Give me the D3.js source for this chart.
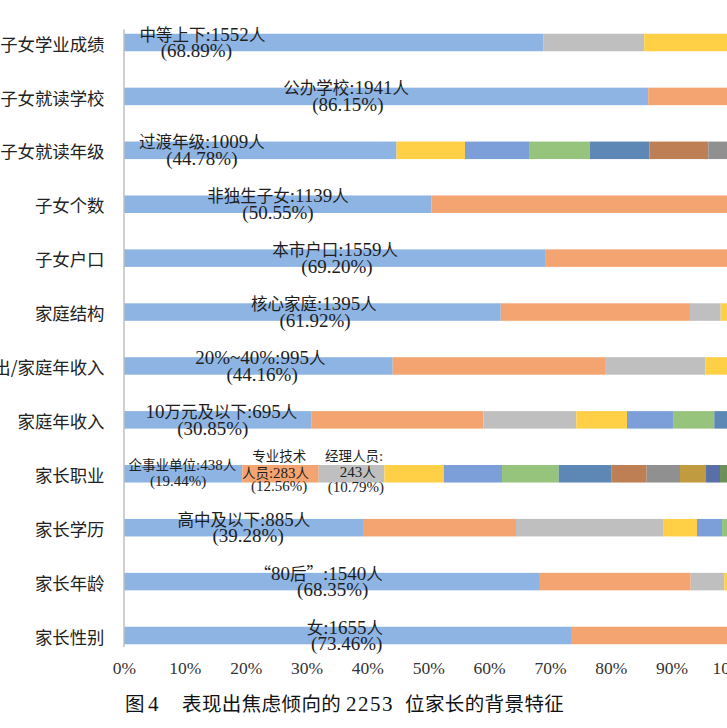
<!DOCTYPE html>
<html><head><meta charset="utf-8">
<script src="https://cdn.jsdelivr.net/npm/d3@7"></script>
<style>html,body{margin:0;padding:0;background:#fff;overflow:hidden}</style>
</head><body><svg id="c" width="727" height="728"></svg>
<script>
// ---------- DATA ----------
const categories = ["子女学业成绩","子女就读学校","子女就读年级","子女个数","子女户口","家庭结构","教育支出/家庭年收入","家庭年收入","家长职业","家长学历","家长年龄","家长性别"];
const seriesKeys = ["s1","s2","s3","s4","s5","s6","s7","s8","s9","s10","s11","s12"];
const s1  = [68.89,86.15,44.78,50.55,69.20,61.92,44.16,30.85,19.44,39.28,68.35,73.46];
const s2  = [0,13.85,0,49.45,30.80,31.10,34.89,28.21,12.56,25.14,24.78,26.54];
const s3  = [16.60,0,0,0,0,5.04,16.48,15.27,10.79,24.27,5.52,0];
const s4  = [14.51,0,11.26,0,0,1.94,4.47,8.33,9.75,5.48,1.35,0];
const s5  = [0,0,10.52,0,0,0,0,7.68,9.58,4.11,0,0];
const s6  = [0,0,9.97,0,0,0,0,6.67,9.32,1.72,0,0];
const s7  = [0,0,9.80,0,0,0,0,2.99,8.71,0,0,0];
const s8  = [0,0,9.69,0,0,0,0,0,5.75,0,0,0];
const s9  = [0,0,3.98,0,0,0,0,0,5.47,0,0,0];
const s10 = [0,0,0,0,0,0,0,0,4.28,0,0,0];
const s11 = [0,0,0,0,0,0,0,0,2.30,0,0,0];
const s12 = [0,0,0,0,0,0,0,0,2.05,0,0,0];
const tickValues = [0,10,20,30,40,50,60,70,80,90,100];
const labelText = [
  [["中等上下:1552人","(68.89%)"]],
  [["公办学校:1941人","(86.15%)"]],
  [["过渡年级:1009人","(44.78%)"]],
  [["非独生子女:1139人","(50.55%)"]],
  [["本市户口:1559人","(69.20%)"]],
  [["核心家庭:1395人","(61.92%)"]],
  [["20%~40%:995人","(44.16%)"]],
  [["10万元及以下:695人","(30.85%)"]],
  [["企事业单位:438人","(19.44%)"],["专业技术","人员:283人","(12.56%)"],["经理人员:","243人","(10.79%)"]],
  [["高中及以下:885人","(39.28%)"]],
  [["“80后”:1540人","(68.35%)"]],
  [["女:1655人","(73.46%)"]]
];
const captionParts = ["图","4","表现出焦虑倾向的","2253","位家长的背景特征"];

// ---------- LAYOUT / STYLE ----------
const colors = ["#8DB4E2","#F3A470","#BFBFBF","#FFD045","#7C9FD9","#97C47D","#5D88B5","#BF7F55","#909090","#C09B40","#5A6FA8","#6D8F58"];
const serifFont = "'Liberation Serif','Times New Roman',Times,'DejaVu Serif',serif";
const cjkFont = "'Noto Sans CJK SC','Noto Sans CJK JP',sans-serif";
// label anchor positions (in % units along the axis) and baseline offsets (px from bar centre)
const labelX = [
  [[12.9,11.9]],[[36.5,36.8]],[[12.8,12.8]],[[25.3,25.3]],[[34.7,35.0]],[[31.2,31.4]],
  [[22.4,22.7]],[[16.0,14.6]],
  [[9.6,8.9],[25.5,24.9,25.5],[37.8,38.4,38.1]],
  [[19.7,20.4]],[[32.0,34.3]],[[36.3,36.6]]
];
const stdDy = [[-2,14.8]];
const row9Dy = [[-3.4,12.3],[-12.3,4.0,17.0],[-12.3,3.4,18.3]];
const captionX = [125,148,182,346,405];

const svg = d3.select("#c");
svg.append("rect").attr("width",727).attr("height",728).attr("fill","#fff");

const x = d3.scaleLinear().domain([0,100]).range([124,732.5]);
const y = d3.scalePoint().domain(categories).range([42.5,635.5]);
const barH = 17.5;

const series = [s1,s2,s3,s4,s5,s6,s7,s8,s9,s10,s11,s12];
const rows = categories.map((c,i)=>{const o={cat:c}; seriesKeys.forEach((k,j)=>o[k]=series[j][i]); return o;});
const stacked = d3.stack().keys(seriesKeys)(rows);

svg.append("g").selectAll("g").data(stacked).join("g")
  .attr("fill",(d,i)=>colors[i])
  .selectAll("rect").data(d=>d.filter(p=>p[1]-p[0]>0)).join("rect")
  .attr("x",d=>x(d[0])).attr("width",d=>x(d[1])-x(d[0]))
  .attr("y",d=>y(d.data.cat)-barH/2).attr("height",barH);

// vertical axis line
svg.append("line")
  .attr("x1",x(0)).attr("x2",x(0))
  .attr("y1",y(categories[0])-13).attr("y2",y(categories[categories.length-1])+11.5)
  .attr("stroke","#BFBFBF").attr("stroke-width",1.5);

// category axis
const gy = svg.append("g").attr("transform",`translate(${x(0)},0)`)
  .call(d3.axisLeft(y).tickSize(0).tickPadding(19.5));
gy.attr("font-family",null);
gy.select(".domain").remove();
gy.selectAll("text").attr("font-family",cjkFont).attr("font-size",17.4)
  .attr("fill","#222").attr("dy",null).attr("y",7.6);

// value axis
const gx = svg.append("g").attr("transform","translate(0,655)")
  .call(d3.axisBottom(x).tickValues(tickValues).tickFormat(d=>d+"%").tickSize(0));
gx.attr("font-family",null);
gx.select(".domain").remove();
gx.selectAll("text").attr("font-family",serifFont).attr("font-size",17.5)
  .attr("fill","#333").attr("dy",null).attr("y",19);

// rich text: CJK runs in CJK font, others in serif
const cjkRe = /[\u2E80-\u9FFF\uFF00-\uFFEF\u3000-\u303F\u201C\u201D]/;
function rich(t, str, cs, ls){
  const runs = str.match(/[\u2E80-\u9FFF\uFF00-\uFFEF\u3000-\u303F\u201C\u201D]+|[^\u2E80-\u9FFF\uFF00-\uFFEF\u3000-\u303F\u201C\u201D]+/g) || [];
  runs.forEach(r=>{
    const c = cjkRe.test(r);
    t.append("tspan").text(r)
      .attr("font-family", c ? cjkFont : serifFont)
      .attr("font-size", c ? cs : ls);
  });
}

labelText.forEach((groups,i)=>{
  const cy = y(categories[i]);
  const small = groups.length>1;
  const dys = small ? row9Dy : stdDy;
  groups.forEach((lines,g)=>{
    lines.forEach((ln,k)=>{
      const t = svg.append("text").attr("text-anchor","middle")
        .attr("x",x(labelX[i][g][k])).attr("y",cy+dys[g][k]).attr("fill","#1e1e1e");
      rich(t, ln, small?13.5:16.5, small?15:19);
    });
  });
});

// caption
const cap = svg.append("text").attr("y",711).attr("fill","#111");
captionParts.forEach((p,i)=>{
  const c = cjkRe.test(p);
  cap.append("tspan").attr("x",captionX[i]).text(p)
    .attr("font-family", c ? cjkFont : serifFont)
    .attr("font-size", c ? 19.5 : 21)
    .attr("letter-spacing", c ? 0.4 : 1.5);
});
</script></body></html>
